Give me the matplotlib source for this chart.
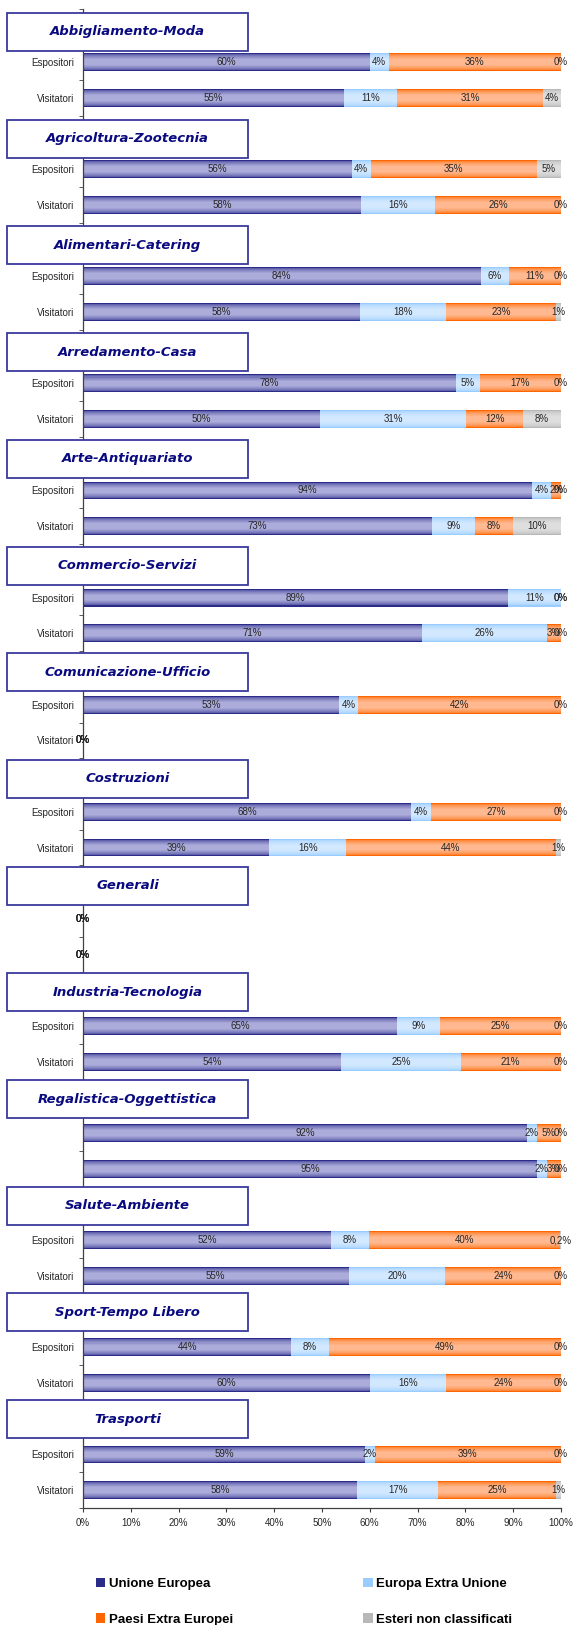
import numpy as np
import matplotlib.pyplot as plt
from matplotlib.patches import Rectangle
from matplotlib.colors import to_rgb

# settori e righe (Espositori / Visitatori)
settori = ['Abbigliamento-Moda', 'Agricoltura-Zootecnia', 'Alimentari-Catering',
           'Arredamento-Casa', 'Arte-Antiquariato', 'Commercio-Servizi',
           'Comunicazione-Ufficio', 'Costruzioni', 'Generali',
           'Industria-Tecnologia', 'Regalistica-Oggettistica', 'Salute-Ambiente',
           'Sport-Tempo Libero', 'Trasporti']
righe = ['Espositori', 'Visitatori'] * 8 + ['', ''] + ['Espositori', 'Visitatori'] + ['', ''] + ['Espositori', 'Visitatori'] * 3

# percentuali, due valori per settore (Espositori, Visitatori)
unione_europea = [60, 54.6, 56.2, 58.2, 84, 58, 78, 50, 94, 73, 89, 71, 53, 0,
                  68, 39, 0, 0, 65, 54, 92, 95, 52, 55, 44, 60, 59, 58]
europa_extra = [4, 11.1, 4.0, 15.5, 6, 18, 5, 31, 4, 9, 11, 26, 4, 0,
                4, 16, 0, 0, 9, 25, 2, 2, 8, 20, 8, 16, 2, 17]
paesi_extra = [36, 30.6, 34.7, 26.3, 11, 23, 17, 12, 2, 8, 0, 3, 42, 0,
               27, 44, 0, 0, 25, 21, 5, 3, 40, 24, 49, 24, 39, 25]
non_classificati = [0, 3.7, 5.1, 0, 0, 1, 0, 8, 0, 10, 0, 0, 0, 0,
                    0, 1, 0, 0, 0, 0, 0, 0, 0.2, 0, 0, 0, 0, 1]

serie = [('Unione Europea', unione_europea, '#2b2b8a', '#acacdb'),
         ('Europa Extra Unione', europa_extra, '#99ccff', '#d2e8ff'),
         ('Paesi Extra Europei', paesi_extra, '#ff6600', '#ffb88f'),
         ('Esteri non classificati', non_classificati, '#b8b8b8', '#dedede')]

W, H = 574, 1625
fig = plt.figure(figsize=(W / 100, H / 100), dpi=100)
ax = fig.add_axes([83 / W, (H - 1508) / H, (561 - 83) / W, (1508 - 8.5) / H])

nslot = len(settori) * 3
y = np.array([3 * (j // 2) + 1 + j % 2 for j in range(len(righe))])

tot = np.array([sum(s[1][j] for s in serie) for j in range(len(righe))], dtype=float)
tot[tot == 0] = 1.0

def sfumatura(scuro, chiaro, n=7):
    d = np.array(to_rgb(scuro))
    c = np.array(to_rgb(chiaro))
    return [d * (1 - (k / (n - 1)) ** 0.5) + c * (k / (n - 1)) ** 0.5 for k in range(n)]

left = np.zeros(len(righe))
handles = []
for nome, vals, scuro, chiaro in serie:
    v = np.array(vals, dtype=float)
    w = v / tot * 100
    cols = sfumatura(scuro, chiaro)
    for k, c in enumerate(cols):
        h = 0.5 * (1 - 0.8 * k / len(cols))
        b = ax.barh(y, w, left=left, height=h, color=c, linewidth=0, zorder=2)
        if k == 0:
            handles.append((nome, b))
    for j in range(len(righe)):
        if v[j] > 0 and v[j] < 0.5:
            lab = ('%.1f%%' % v[j]).replace('.', ',')
        else:
            lab = '%d%%' % round(v[j])
        ax.text(left[j] + w[j] / 2, y[j], lab, ha='center', va='center',
                fontsize=7, family='Liberation Sans', color='#262626', zorder=5)
    left += w

ax.set_xlim(0, 100)
ax.set_ylim(nslot - 0.5, -0.5)
ax.set_xticks(np.arange(0, 101, 10))
ax.set_xticklabels(['%d%%' % t for t in range(0, 101, 10)], family='Liberation Sans', fontsize=7, color='#262626')
ax.set_yticks(y)
ax.set_yticklabels(righe, family='Liberation Sans', fontsize=7, color='#262626')
ax.set_yticks(np.arange(-0.5, nslot, 1), minor=True)
ax.tick_params(axis='y', which='major', length=0, pad=6.5)
ax.tick_params(axis='y', which='minor', length=3, direction='out', color='#404040')
ax.tick_params(axis='x', length=3, direction='out', color='#404040', pad=4)
for s in ['top', 'right']:
    ax.spines[s].set_visible(False)
for s in ['left', 'bottom']:
    ax.spines[s].set_color('#404040')
    ax.spines[s].set_linewidth(0.9)

# riquadri dei titoli
for g, nome in enumerate(settori):
    top = 13 + g * 106.7
    r = Rectangle((7 / W, 1 - (top + 38) / H), (248 - 7) / W, 38 / H, transform=fig.transFigure,
                  facecolor='white', edgecolor='#3a3a9e', linewidth=1.3, zorder=10)
    fig.patches.append(r)
    fig.text(127.5 / W, 1 - (top + 19) / H, nome, ha='center', va='center', fontsize=9.5,
             fontweight='bold', fontstyle='italic', color='#0a0a80', family='DejaVu Sans', zorder=11)

ordine = [0, 2, 1, 3]
fig.legend([handles[i][1] for i in ordine], [handles[i][0] for i in ordine], ncol=2,
           loc='upper left', bbox_to_anchor=(96 / W, 1 - 1578 / H), frameon=False,
           prop={'family': 'Liberation Sans', 'weight': 'bold', 'size': 9.5},
           handlelength=0.7, handleheight=0.7, handletextpad=0.25, columnspacing=9.9,
           labelspacing=1.75, borderaxespad=0, borderpad=0)

fig.savefig('out.png', dpi=100)
